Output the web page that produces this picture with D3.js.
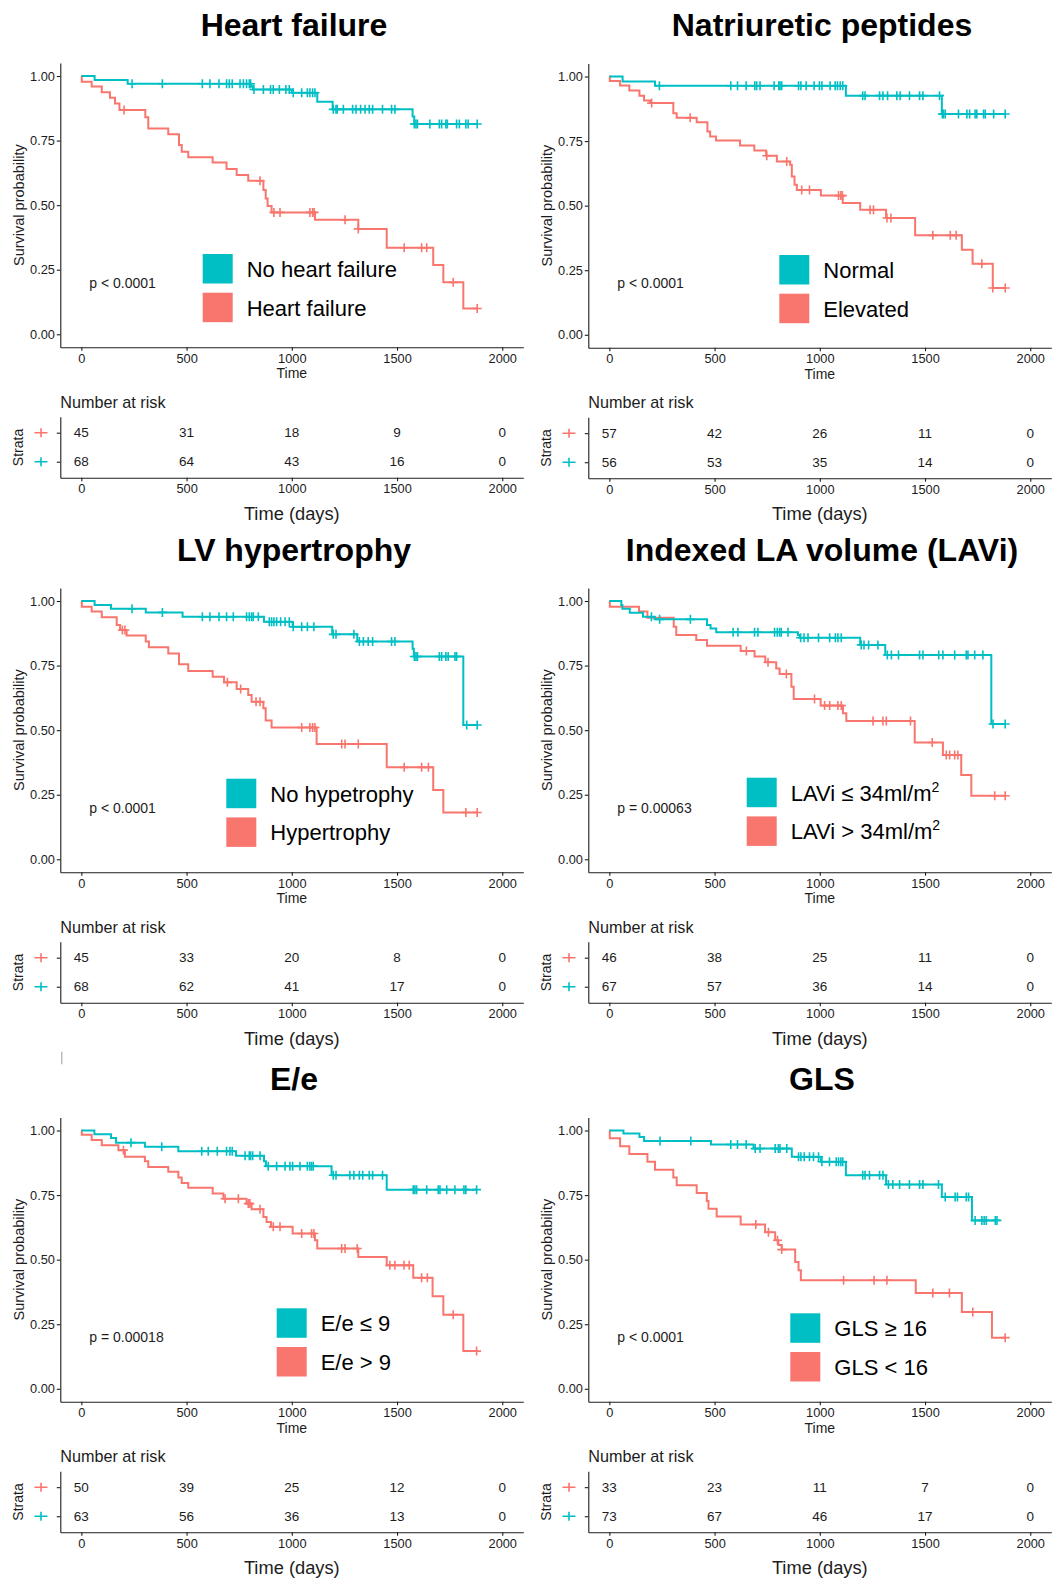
<!DOCTYPE html>
<html><head><meta charset="utf-8">
<script src="https://cdn.jsdelivr.net/npm/d3@7"></script>
<style>
body{margin:0;background:#fff;}
svg{display:block;font-family:"Liberation Sans",Arial,Helvetica,sans-serif;}
</style>
</head><body>
<svg id="chart" width="1054" height="1580"></svg>
<script>
// ---------- shared ticks ----------
const timeTicks = [0, 500, 1000, 1500, 2000];
const survTicks = [0, 0.25, 0.5, 0.75, 1];

// ---------- Heart failure ----------
const hfTealSteps = [[63,0.985],[220,0.970],[805,0.960],[815,0.948],[1000,0.935],[1121,0.900],[1194,0.871],[1574,0.843],[1582,0.814]];
const hfTealCensor = [241,385,575,611,654,690,703,717,754,770,785,798,804,820,865,899,912,941,972,988,1007,1047,1074,1086,1099,1110,1197,1210,1216,1245,1289,1305,1327,1348,1368,1384,1431,1474,1490,1582,1590,1597,1656,1701,1712,1732,1739,1783,1796,1827,1838,1881];
const hfRedSteps = [[2,0.978],[49,0.959],[97,0.937],[136,0.916],[160,0.894],[181,0.868],[304,0.840],[318,0.797],[413,0.775],[464,0.733],[477,0.707],[508,0.685],[624,0.665],[690,0.640],[738,0.617],[793,0.594],[865,0.559],[876,0.526],[885,0.497],[904,0.472],[1110,0.443],[1316,0.408],[1451,0.335],[1672,0.268],[1720,0.201],[1815,0.100]];
const hfRedCensor = [203,849,915,944,1086,1099,1106,1253,1316,1534,1617,1641,1767,1881];
const hfRiskRed = [45,31,18,9,0];
const hfRiskTeal = [68,64,43,16,0];

// ---------- Natriuretic peptides ----------
const npTealSteps = [[63,0.981],[217,0.964],[1124,0.926],[1580,0.855]];
const npTealCensor = [238,577,609,650,691,700,716,783,805,811,819,899,910,935,973,998,1010,1049,1073,1084,1097,1109,1204,1215,1284,1300,1322,1366,1382,1426,1474,1490,1569,1582,1588,1596,1659,1699,1712,1738,1746,1778,1786,1826,1881];
const npRedSteps = [[2,0.983],[51,0.965],[95,0.946],[143,0.926],[165,0.907],[193,0.897],[304,0.858],[320,0.840],[415,0.823],[466,0.787],[479,0.768],[507,0.752],[621,0.733],[689,0.714],[745,0.693],[796,0.671],[859,0.658],[867,0.613],[880,0.581],[891,0.561],[1005,0.539],[1109,0.510],[1192,0.484],[1315,0.452],[1453,0.385],[1675,0.329],[1726,0.275],[1822,0.181]];
const npRedCensor = [201,384,748,843,914,951,1089,1100,1107,1239,1255,1319,1338,1537,1620,1648,1770,1822,1881];
const npRiskRed = [57,42,26,11,0];
const npRiskTeal = [56,53,35,14,0];

// ---------- LV hypertrophy ----------
const lvTealSteps = [[63,0.985],[141,0.970],[306,0.956],[481,0.939],[868,0.920],[1004,0.900],[1192,0.871],[1311,0.843],[1574,0.815],[1580,0.785],[1815,0.520]];
const lvTealCensor = [241,385,575,611,654,690,722,785,798,809,817,841,893,904,915,928,947,968,988,1007,1047,1074,1105,1197,1210,1295,1321,1340,1363,1384,1474,1490,1582,1590,1597,1701,1712,1732,1743,1775,1783,1831,1881];
const lvRedSteps = [[2,0.978],[49,0.959],[97,0.937],[168,0.907],[184,0.888],[215,0.866],[306,0.843],[321,0.821],[413,0.797],[464,0.755],[508,0.729],[624,0.707],[678,0.685],[738,0.659],[793,0.636],[809,0.610],[865,0.585],[876,0.537],[904,0.510],[1118,0.446],[1451,0.356],[1672,0.268],[1720,0.181]];
const lvRedCensor = [195,207,694,757,830,849,1047,1086,1099,1110,1237,1253,1316,1534,1617,1649,1827,1881];
const lvRiskRed = [45,33,20,8,0];
const lvRiskTeal = [68,62,41,17,0];

// ---------- Indexed LA volume ----------
const laTealSteps = [[57,0.985],[62,0.970],[97,0.955],[160,0.939],[215,0.929],[464,0.907],[481,0.894],[508,0.879],[896,0.868],[904,0.858],[1192,0.830],[1311,0.791],[1815,0.524]];
const laTealCensor = [200,239,385,588,611,690,706,785,798,809,817,849,909,925,944,994,1047,1074,1086,1102,1197,1210,1232,1276,1321,1340,1374,1474,1490,1565,1585,1641,1696,1704,1736,1775,1823,1881];
const laRedSteps = [[2,0.978],[141,0.959],[181,0.935],[306,0.900],[318,0.868],[413,0.849],[464,0.827],[624,0.806],[690,0.785],[741,0.763],[793,0.739],[809,0.717],[865,0.668],[876,0.621],[1004,0.595],[1110,0.565],[1126,0.535],[1451,0.452],[1585,0.404],[1672,0.326],[1720,0.246]];
const laRedCensor = [651,754,841,975,1023,1047,1086,1102,1253,1300,1316,1431,1534,1601,1617,1641,1656,1831,1881];
const laRiskRed = [46,38,25,11,0];
const laRiskTeal = [67,57,36,14,0];

// ---------- E/e ----------
const eeTealSteps = [[62,0.986],[141,0.971],[165,0.953],[302,0.937],[461,0.920],[735,0.902],[868,0.881],[877,0.862],[1189,0.827],[1451,0.771]];
const eeTealCensor = [236,382,572,603,646,690,706,717,778,798,804,814,849,888,928,968,991,1004,1039,1074,1086,1094,1102,1197,1210,1276,1295,1321,1337,1368,1384,1431,1577,1585,1593,1641,1696,1704,1736,1775,1818,1827,1878];
const eeRedSteps = [[2,0.984],[49,0.963],[97,0.943],[176,0.924],[207,0.898],[302,0.881],[318,0.859],[413,0.840],[461,0.818],[477,0.797],[508,0.778],[624,0.756],[675,0.736],[785,0.717],[809,0.695],[865,0.665],[880,0.646],[901,0.627],[1004,0.601],[1110,0.575],[1121,0.543],[1316,0.510],[1451,0.478],[1577,0.430],[1669,0.358],[1720,0.287],[1815,0.146]];
const eeRedCensor = [200,683,746,793,801,849,912,944,1047,1094,1105,1237,1253,1311,1466,1490,1533,1558,1617,1644,1767,1878];
const eeRiskRed = [50,39,25,12,0];
const eeRiskTeal = [63,56,36,13,0];

// ---------- GLS ----------
const glsTealSteps = [[67,0.988],[143,0.975],[165,0.959],[483,0.946],[685,0.930],[867,0.898],[1005,0.879],[1124,0.827],[1315,0.791],[1580,0.743],[1723,0.652]];
const glsTealCensor = [241,387,577,609,650,693,716,788,803,811,843,899,910,926,951,970,994,1010,1046,1078,1089,1100,1109,1204,1215,1236,1284,1300,1326,1347,1379,1426,1474,1490,1564,1596,1643,1654,1696,1707,1738,1770,1781,1791,1834,1842];
const glsRedSteps = [[2,0.970],[51,0.939],[95,0.909],[181,0.879],[217,0.848],[304,0.818],[320,0.788],[415,0.758],[463,0.727],[471,0.697],[510,0.667],[624,0.636],[740,0.606],[788,0.575],[803,0.557],[819,0.539],[883,0.491],[899,0.459],[910,0.420],[1456,0.371],[1675,0.297],[1818,0.198]];
const glsRedCensor = [696,756,799,819,1113,1258,1319,1537,1616,1727,1881];
const glsRiskRed = [33,23,11,7,0];
const glsRiskTeal = [73,67,46,17,0];

// ---------- panel text / layout ----------
const panelTitles = ["Heart failure","Natriuretic peptides","LV hypertrophy","Indexed LA volume (LAVi)","E/e","GLS"];
const tealLabels = ["No heart failure","Normal","No hypetrophy","LAVi \u2264 34ml/m","E/e \u2264 9","GLS \u2265 16"];
const redLabels = ["Heart failure","Elevated","Hypertrophy","LAVi > 34ml/m","E/e > 9","GLS < 16"];
const pValues = ["p < 0.0001","p < 0.0001","p < 0.0001","p = 0.00063","p = 0.00018","p < 0.0001"];

const TEAL = "#00BFC4", RED = "#F8766D", INK = "#1c1c1c";
const FONT = '"Liberation Sans", Arial, Helvetica, sans-serif';

const panels = [
  {tS:hfTealSteps, tC:hfTealCensor, rS:hfRedSteps, rC:hfRedCensor, rR:hfRiskRed, rT:hfRiskTeal, ox:0,   oy:0,      leg:[202.7,254], sup:false},
  {tS:npTealSteps, tC:npTealCensor, rS:npRedSteps, rC:npRedCensor, rR:npRiskRed, rT:npRiskTeal, ox:528, oy:0.5,    leg:[251.3,254.5], sup:false},
  {tS:lvTealSteps, tC:lvTealCensor, rS:lvRedSteps, rC:lvRedCensor, rR:lvRiskRed, rT:lvRiskTeal, ox:0,   oy:525,    leg:[226.3,253.7], sup:false},
  {tS:laTealSteps, tC:laTealCensor, rS:laRedSteps, rC:laRedCensor, rR:laRiskRed, rT:laRiskTeal, ox:528, oy:525,    leg:[218.7,252.7], sup:true},
  {tS:eeTealSteps, tC:eeTealCensor, rS:eeRedSteps, rC:eeRedCensor, rR:eeRiskRed, rT:eeRiskTeal, ox:0,   oy:1054.5, leg:[276.7,253.8], sup:false},
  {tS:glsTealSteps,tC:glsTealCensor,rS:glsRedSteps,rC:glsRedCensor,rR:glsRiskRed,rT:glsRiskTeal,ox:528, oy:1054.5, leg:[262.3,258.8], sup:false}
];

const svg = d3.select("#chart");
svg.append("rect").attr("width",1054).attr("height",1580).attr("fill","#fff");

function survAt(steps, t){
  let s = 1;
  for (const [tt, v] of steps){ if (tt <= t) s = v; else break; }
  return s;
}

function styleAxis(sel, fs){
  sel.attr("font-family", FONT).attr("font-size", fs);
  sel.select(".domain").attr("stroke", INK).attr("stroke-width", 1.1);
  sel.selectAll(".tick line").attr("stroke", INK).attr("stroke-width", 1.1);
  sel.selectAll(".tick text").attr("fill", INK);
}

const timeFmt = d3.format("d");

panels.forEach((p, i) => {
  const g = svg.append("g").attr("transform", `translate(${p.ox},${p.oy})`);
  const x = d3.scaleLinear().domain([-100, 2100]).range([60.3, 523.3]);
  const y = d3.scaleLinear().domain([-0.05, 1.05]).range([347.2, 63.1]);

  // title
  g.append("text").attr("x", 294).attr("y", 35.5).attr("text-anchor","middle")
    .attr("font-size", 32).attr("font-weight","bold").attr("fill","#000").text(panelTitles[i]);

  // axes
  const gx = g.append("g").attr("transform", `translate(0,${y(-0.05)})`)
    .call(d3.axisBottom(x).tickValues(timeTicks).tickFormat(timeFmt).tickSize(3.5).tickSizeOuter(0).tickPadding(3));
  styleAxis(gx, 12.8);
  const gy = g.append("g").attr("transform", `translate(${x(-100)},0)`)
    .call(d3.axisLeft(y).tickValues(survTicks).tickFormat(d3.format(".2f")).tickSize(3.5).tickSizeOuter(0).tickPadding(1.8));
  styleAxis(gy, 12.8);

  g.append("text").attr("x", x(1000)).attr("y", 373).attr("text-anchor","middle")
    .attr("dominant-baseline","central").attr("font-size",14).attr("fill",INK).text("Time");
  g.append("text").attr("transform", `translate(19.3,${y(0.5)}) rotate(-90)`).attr("text-anchor","middle")
    .attr("dominant-baseline","central").attr("font-size",14.5).attr("fill",INK).text("Survival probability");

  // curves (red stratum first, teal on top)
  const line = d3.line().x(d => x(d[0])).y(d => y(d[1])).curve(d3.curveStepAfter);
  [[p.rS, p.rC, RED], [p.tS, p.tC, TEAL]].forEach(([steps, cens, col]) => {
    const last = steps[steps.length - 1];
    const end = Math.max(d3.max(cens), last[0]);
    const pts = [[0, 1], ...steps, [end, last[1]]];
    g.append("path").attr("d", line(pts)).attr("fill","none").attr("stroke", col)
      .attr("stroke-width", 2).attr("stroke-linejoin","miter");
    g.append("g").selectAll("path").data(cens).join("path")
      .attr("d", t => { const cx = x(t), cy = y(survAt(steps, t)); return `M${cx-4.5},${cy}h9M${cx},${cy-4.5}v9`; })
      .attr("stroke", col).attr("stroke-width", 1.6).attr("fill","none");
  });

  // p-value
  g.append("text").attr("x", x(38)).attr("y", y(0.2)).attr("dominant-baseline","central")
    .attr("font-size", 14).attr("fill", INK).text(pValues[i]);

  // legend
  const [lx, ly] = p.leg;
  [[TEAL, tealLabels[i], 0], [RED, redLabels[i], 38.7]].forEach(([col, lab, dy]) => {
    g.append("rect").attr("x", lx).attr("y", ly + dy).attr("width", 30).attr("height", 29.5).attr("fill", col);
    const t = g.append("text").attr("x", lx + 44).attr("y", ly + dy + 14.7 + 8.3)
      .attr("font-size", 22).attr("fill", "#000").text(lab);
    if (p.sup) t.append("tspan").attr("font-size", 14).attr("dy", -9).text("2");
  });

  // risk table
  g.append("text").attr("x", 60.3).attr("y", 401.7).attr("dominant-baseline","central")
    .attr("font-size", 16.2).attr("fill", INK).text("Number at risk");
  const ry = d3.scalePoint().domain(["red","teal"]).range([416.7, 477.7]).padding(0.55);
  const rgx = g.append("g").attr("transform", `translate(0,477.7)`)
    .call(d3.axisBottom(x).tickValues(timeTicks).tickFormat(timeFmt).tickSize(3.5).tickSizeOuter(0).tickPadding(3));
  styleAxis(rgx, 12.8);
  const rgy = g.append("g").attr("transform", `translate(${x(-100)},0)`)
    .call(d3.axisLeft(ry).tickSize(3.5).tickSizeOuter(0).tickFormat(() => ""));
  styleAxis(rgy, 12.8);
  [["red", p.rR, RED], ["teal", p.rT, TEAL]].forEach(([key, vals, col]) => {
    const cy = ry(key);
    g.append("path").attr("d", `M${34.5},${cy}h13M41,${cy-4.5}v9`).attr("stroke", col).attr("stroke-width", 1.6);
    g.append("g").selectAll("text").data(vals).join("text")
      .attr("x", (v, k) => x(timeTicks[k])).attr("y", cy).attr("text-anchor","middle")
      .attr("dominant-baseline","central").attr("font-size", 13.5).attr("fill", INK).text(v => v);
  });
  g.append("text").attr("transform", `translate(18,447.5) rotate(-90)`).attr("text-anchor","middle")
    .attr("dominant-baseline","central").attr("font-size",14).attr("fill",INK).text("Strata");
  g.append("text").attr("x", x(1000)).attr("y", 513).attr("text-anchor","middle")
    .attr("dominant-baseline","central").attr("font-size", 18.3).attr("fill", INK).text("Time (days)");
});

// small stray mark left of the E/e panel
svg.append("line").attr("x1", 61.8).attr("x2", 61.8).attr("y1", 1051.7).attr("y2", 1064.3)
  .attr("stroke", "#9a9a9a").attr("stroke-width", 1);
</script>
</body></html>
